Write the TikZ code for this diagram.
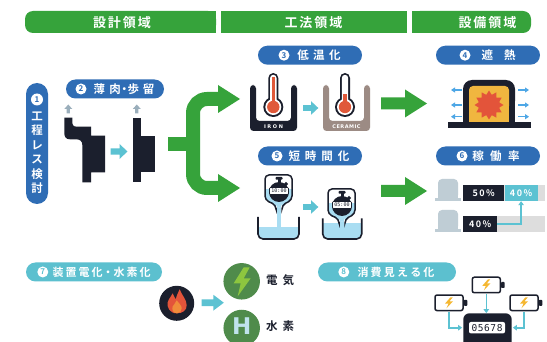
\documentclass[tikz,border=0pt]{standalone}
\usepackage{fontspec}
\setmainfont{Noto Sans CJK JP}[BoldFont={Noto Sans CJK JP Bold}]
\newfontfamily\latinbold{DejaVu Sans}
\newfontfamily\digitfont{DejaVu Sans Mono}
\usetikzlibrary{shapes.geometric,arrows.meta}

\definecolor{hdrgreen}{HTML}{36A33B}
\definecolor{pillblue}{HTML}{2F6DB5}
\definecolor{pillteal}{HTML}{5CC0CF}
\definecolor{ink}{HTML}{1B1F2D}
\definecolor{greyarrow}{HTML}{9AAEBB}
\definecolor{tealarrow}{HTML}{5CC2D2}
\definecolor{thermred}{HTML}{E0593A}
\definecolor{ceramic}{HTML}{9C8B84}
\definecolor{water}{HTML}{A9DDF2}
\definecolor{sunyellow}{HTML}{F0B63F}
\definecolor{sunred}{HTML}{E3543A}
\definecolor{heatblue}{HTML}{4EA7E6}
\definecolor{machinegrey}{HTML}{BFCDD5}
\definecolor{bargrey}{HTML}{DDDDDD}
\definecolor{circgreen}{HTML}{4F8B4B}
\definecolor{boltgreen}{HTML}{8DC63F}
\definecolor{hblue}{HTML}{BFE3EC}
\definecolor{battyellow}{HTML}{F5B731}
\definecolor{flameorange}{HTML}{F08C3A}

% letter-spaced text: \tracked{gap}{characters}
\makeatletter
\newcommand\tracked[2]{\def\trk@k{#1}\trk@loop#2\trk@end}
\def\trk@loop#1#2\trk@end{#1\ifx\relax#2\relax\else\kern\trk@k\relax\trk@loop#2\trk@end\fi}
\makeatother

\tikzset{
  hdrtext/.style={text=white, inner sep=0, font=\bfseries\fontsize{13}{13}\selectfont},
  pilltext/.style={text=white, inner sep=0, font=\bfseries\fontsize{11.5}{11.5}\selectfont},
  pillsmall/.style={text=white, inner sep=0, font=\bfseries\fontsize{11}{11}\selectfont},
  numdot/.style={circle, fill=white, inner sep=0, minimum size=11, font=\bfseries\fontsize{8}{8}\selectfont},
  cuplabel/.style={text=white, inner sep=0, font=\latinbold\bfseries\fontsize{5}{5}\selectfont},
  display/.style={fill=white, draw=ink, line width=0.6, rounded corners=1, minimum width=19, minimum height=7, inner sep=0, text=ink, font=\digitfont\fontsize{5}{5}\selectfont},
  heatarrow/.style={heatblue, line width=1.3, -{Triangle[width=5,length=4]}},
  tealline/.style={tealarrow, line width=1.6, -{Triangle[width=5.5,length=4]}},
  barseg/.style={minimum height=16, inner sep=0, text=white, font=\bfseries\fontsize{9}{9}\selectfont, anchor=west},
  battery/.style={draw=ink, line width=1.5, fill=white, rounded corners=2, minimum width=28, minimum height=15.5, inner sep=0},
  labeltext/.style={inner sep=0, text=ink, font=\bfseries\fontsize{11.5}{11.5}\selectfont, anchor=west},
  tealblock/.pic={\fill[tealarrow] (0,-3.2) -- (9,-3.2) -- (9,-7.5) -- (17,0) -- (9,7.5) -- (9,3.2) -- (0,3.2) -- cycle;},
  greyup/.pic={\fill[greyarrow] (0,0) -- (4,4.5) -- (1.6,4.5) -- (1.6,9) -- (-1.6,9) -- (-1.6,4.5) -- (-4,4.5) -- cycle;},
  thermo/.pic={
    \fill[ink] (0,0) circle[radius=10];
    \fill[ink, rounded corners=5] (-5,-34) rectangle (5,-2);
    \fill[white] (0,0) circle[radius=8];
    \fill[white, rounded corners=3.2] (-3.2,-32.2) rectangle (3.2,-2);
    \fill[thermred] (0,0) circle[radius=6.2];
    \fill[thermred] (-1.7,#1) rectangle (1.7,-2);
  },
  cup/.pic={
    \fill[#1, rounded corners=3.5] (-23.5,0) -- (-23.5,46) -- (23.5,46) -- (23.5,0)
      -- (17.5,0) -- (17.5,36) -- (-17.5,36) -- (-17.5,0) -- cycle;
  },
  stopwatch/.pic={
    \begin{scope}
      \clip[rounded corners=4] (-3,16) -- (-3,13) -- (-14,8) -- (-14,-17) -- (13,-17) -- (13,8) -- (3,13) -- (3,16) -- cycle;
      \fill[white] (-20,-20) rectangle (20,20);
      \fill[water] (-20,-3) rectangle (20,20);
    \end{scope}
    \draw[ink, line width=1.5, rounded corners=4] (-3,16) -- (-3,13) -- (-14,8) -- (-14,-17) -- (13,-17) -- (13,8) -- (3,13) -- (3,16);
    \fill[ink] (0,0) circle[radius=10];
    \fill[ink] (-1.5,-13) rectangle (1.5,-9);
    \fill[ink, rounded corners=0.8] (-3.5,-15) rectangle (3.5,-12.3);
    \fill[ink, rotate around={45:(7,-8)}] (5.5,-9.5) rectangle (8.5,-6.5);
    \node[display] at (0,-1) {#1};
  },
  machine/.pic={
    \fill[machinegrey, rounded corners=4] (-10,0) rectangle (10,20);
    \fill[machinegrey] (-10,12) rectangle (10,20);
    \fill[machinegrey] (-13,19.5) rectangle (13,22.5);
  },
}

\begin{document}
\begin{tikzpicture}[x=1pt, y=-1pt]
\useasboundingbox (0,0) rectangle (547,342);
\fill[white] (0,0) rectangle (547,342);

% ---------- section headers ----------
\fill[hdrgreen, rounded corners=8] (25,11) rectangle (216,33);
\fill[hdrgreen] (205,11) rectangle (216,33);
\fill[hdrgreen] (221,11) rectangle (407,33);
\fill[hdrgreen, rounded corners=8] (412,11) rectangle (531,33);
\fill[hdrgreen] (412,11) rectangle (425,33);
\node[hdrtext] (hdesign) at (122,22.5) {\tracked{2pt}{設計領域}};
\node[hdrtext] (hmethod) at (313.5,22.5) {\tracked{2pt}{工法領域}};
\node[hdrtext] (hequip) at (487.5,22.5) {\tracked{2pt}{設備領域}};

% ---------- 1: process-less study (vertical pill) ----------
\fill[pillblue, rounded corners=11] (26,83) rectangle (48,204);
\node[numdot, minimum size=12, text=pillblue] (n1) at (37,99.5) {1};
\foreach \ch [count=\i] in {工,程,レ,ス,検,討}
  \node[pilltext] (v\i) at (37,{101.5+14.5*\i}) {\ch};

% ---------- 2: thin wall / yield ----------
\fill[pillblue, rounded corners=9.5] (66,79.5) rectangle (164,98.5);
\node[numdot, text=pillblue] (n2) at (81,89) {2};
\node[pilltext] (t2) at (124,89) {薄\kern4.5pt肉\kern-2.5pt・\kern-2.5pt歩\kern4pt留};

\pic at (68.3,104.5) {greyup};
\pic at (136.8,104.5) {greyup};
% forging before
\fill[ink] (64.3,117.7) -- (72.3,117.7) -- (72.3,121)
  .. controls (72.3,125) and (73,126.7) .. (77,126.7) -- (91,126.7) -- (91,135.7)
  -- (105,135.7) -- (105,172.3) -- (91,172.3) -- (91,182.3) -- (82.3,182.3) -- (82.3,145)
  .. controls (82.3,141) and (80,139.3) .. (76,139.3) -- (70,139.3)
  .. controls (66,139.3) and (64.3,137) .. (64.3,133) -- cycle;
% forging after
\fill[ink] (132.7,117.7) rectangle (141,182.3);
\fill[ink] (141,135.7) rectangle (155,172.3);
\pic at (110.5,151.5) {tealblock};

% ---------- branching arrow ----------
\draw[hdrgreen, line width=14] (168,144) -- (193,144);
\draw[hdrgreen, line width=14, rounded corners=14] (219,99) -- (193,99) -- (193,188) -- (219,188);
\fill[hdrgreen] (218,85) -- (240,99) -- (218,113) -- cycle;
\fill[hdrgreen] (218,174) -- (240,188) -- (218,202) -- cycle;

% ---------- 3: lower temperature ----------
\fill[pillblue, rounded corners=9.5] (258,45.7) rectangle (362,64.7);
\node[numdot, text=pillblue] (n3) at (284,55.2) {3};
\node[pilltext] (t3) at (319,55.2) {\tracked{4.5pt}{低温化}};

\pic at (273.5,85) {cup=ink};
\pic at (273.3,107) {thermo=-30};
\node[cuplabel] (iron) at (273.5,126.5) {\tracked{1.6pt}{IRON}};
\pic at (346.5,85) {cup=ceramic};
\pic at (345,107) {thermo=-13};
\node[cuplabel] (ceram) at (346.5,126.5) {\tracked{0.5pt}{CERAMIC}};
\pic[scale=0.9] at (303,108) {tealblock};

% ---------- 5: shorter time ----------
\fill[pillblue, rounded corners=9.5] (258,146.5) rectangle (362,165.5);
\node[numdot, text=pillblue] (n5) at (277,156) {5};
\node[pilltext] (t5) at (319,156) {\tracked{5pt}{短時間化}};

% bowls and water
\begin{scope}
  \clip[rounded corners=5] (258,210) -- (258,239) -- (299,239) -- (299,210) -- cycle;
  \fill[water] (250,226.7) rectangle (305,245);
\end{scope}
\begin{scope}
  \clip[rounded corners=5] (322.7,210) -- (322.7,239) -- (361.7,239) -- (361.7,210) -- cycle;
  \fill[water] (315,223.3) rectangle (370,245);
\end{scope}
\fill[water] (277,205) rectangle (281,228);
\fill[water] (340,219) rectangle (344,225);
\draw[ink, line width=1.6, rounded corners=5] (258,217) -- (258,239) -- (299,239) -- (299,217);
\draw[ink, line width=1.6, rounded corners=5] (322.7,218.3) -- (322.7,239) -- (361.7,239) -- (361.7,218.3);
\pic at (279,192) {stopwatch=10:00};
\pic at (342,206) {stopwatch=05:00};
\pic[scale=0.9] at (303,207) {tealblock};

% ---------- arrows into equipment area ----------
\fill[hdrgreen] (381,97.5) -- (405,97.5) -- (405,89.5) -- (427,103.5) -- (405,117.5) -- (405,109.5) -- (381,109.5) -- cycle;
\fill[hdrgreen] (381,185) -- (405,185) -- (405,177) -- (427,191) -- (405,205) -- (405,197) -- (381,197) -- cycle;

% ---------- 4: heat shielding ----------
\fill[pillblue, rounded corners=9.5] (436,45.7) rectangle (540,64.7);
\node[numdot, text=pillblue] (n4) at (465,55.2) {4};
\node[pilltext] (t4) at (498.7,55.2) {\tracked{11pt}{遮熱}};

\fill[ink, rounded corners=9] (463,80) rectangle (515,110);
\fill[ink] (463,100) rectangle (515,124);
\fill[sunyellow, rounded corners=4] (469,86) rectangle (509,110);
\fill[sunyellow] (469,100) rectangle (509,123);
\fill[ink] (448,122.5) rectangle (531,128);
\node[star, star points=12, star point ratio=1.38, fill=sunred, minimum size=29, inner sep=0] (sun) at (489,105) {};
\foreach \yy in {90,105,116.7} {
  \draw[heatarrow] (462,\yy) -- (451,\yy);
  \draw[heatarrow] (518,\yy) -- (529,\yy);
}

% ---------- 6: utilisation ----------
\fill[pillblue, rounded corners=9.5] (436,146.5) rectangle (540,165.5);
\node[numdot, text=pillblue] (n6) at (462,156) {6};
\node[pilltext] (t6) at (496,156) {\tracked{6.3pt}{稼働率}};

\pic at (448,179) {machine};
\pic at (448,210) {machine};
\fill[bargrey] (463,185) rectangle (545,201);
\fill[bargrey] (463,216) rectangle (545,232);
\node[barseg, fill=ink, minimum width=41] (b50) at (463,193) {\tracked{1.5pt}{50\%}};
\node[barseg, fill=tealarrow, minimum width=33] (b40) at (b50.east) {\tracked{1.5pt}{40\%}};
\node[barseg, fill=ink, minimum width=34] (c40) at (463,224) {\tracked{1.5pt}{40\%}};
\draw[tealline] (c40.east) -| (b40.south);

% ---------- 7: electrification / hydrogen ----------
\fill[pillteal, rounded corners=9.5] (26,262.5) rectangle (162,281.5);
\node[numdot, text=pillteal] (n7) at (42.8,272) {7};
\node[pillsmall] (t7) at (101.7,272) {装\kern2pt置\kern2pt電\kern2pt化・水\kern2pt素\kern2pt化};

\node[circle, fill=ink, minimum size=35, inner sep=0] (flame) at (176.7,303.3) {};
\begin{scope}[shift={(flame.center)}]
  \fill[sunred] (0,10) .. controls (-7,10) and (-10,4) .. (-9,-1)
    .. controls (-8,-5) and (-5,-7) .. (-4,-10)
    .. controls (-2.5,-7) and (-2,-5) .. (-1,-4)
    .. controls (0,-8) and (2,-12) .. (3,-14)
    .. controls (5,-8) and (10,-4) .. (10,2)
    .. controls (10,7) and (6,10) .. (0,10) -- cycle;
  \fill[flameorange] (0.5,10) .. controls (-4,10) and (-5,6) .. (-4,3)
    .. controls (-3,1) and (-1,0) .. (0,-3)
    .. controls (2,0) and (5,2) .. (5,5)
    .. controls (5,8) and (3,10) .. (0.5,10) -- cycle;
\end{scope}
\pic[xscale=1.3, yscale=1.05] at (201.7,302.7) {tealblock};

\node[circle, fill=circgreen, minimum size=36.5, inner sep=0] (elec) at (241.7,281.3) {};
\fill[boltgreen, shift={(elec.center)}] (2,-14) -- (-8,2) -- (-1,2) -- (-4,15) -- (9,-3) -- (2,-3) -- (8,-14) -- cycle;
\node[circle, fill=circgreen, minimum size=36.5, inner sep=0] (hyd) at (241.7,328) {};
\node[inner sep=0, text=hblue, font=\latinbold\bfseries\fontsize{23}{23}\selectfont] (hlet) at (241.7,326.5) {H};
\node[labeltext] (tden) at (266,280.5) {\tracked{5pt}{電気}};
\node[labeltext] (tsui) at (266,326.5) {\tracked{5pt}{水素}};

% ---------- 8: visualised consumption ----------
\fill[pillteal, rounded corners=9.5] (318,262.5) rectangle (456,281.5);
\node[numdot, text=pillteal] (n8) at (343.8,272) {8};
\node[pillsmall] (t8) at (396,272) {\tracked{2.2pt}{消費見える化}};

\node[fill=ink, rounded corners=6, minimum width=48.4, minimum height=40, inner sep=0] (meter) at (487.5,333.3) {};
\node[fill=white, rounded corners=2, minimum width=36, minimum height=11.5, inner sep=0, text=ink,
      font=\digitfont\fontsize{9.5}{9.5}\selectfont] (disp) at (487,327.7) {\tracked{0.6pt}{05678}};

\node[battery] (btop) at (486.3,285) {};
\node[battery] (bleft) at (449,302.8) {};
\node[battery] (bright) at (524,302.8) {};
\foreach \b in {btop,bleft,bright} {
  \fill[ink, rounded corners=0.8] ([yshift=3pt]\b.east) rectangle +(3.5,6);
  \fill[battyellow, shift={(\b.center)}] (1.5,-5.5) -- (-4,0.8) -- (-0.5,0.8) -- (-2.5,5.5) -- (4,-1.5) -- (0.5,-1.5) -- (3.8,-5.5) -- cycle;
}
\draw[tealline, shorten <=1] (btop.south) -- (btop.south |- meter.north);
\draw[tealline, shorten <=1, shorten >=1] (bleft.south) |- (meter.west |- disp.center);
\draw[tealline, shorten <=1, shorten >=1] (bright.south) |- (meter.east |- disp.center);
\end{tikzpicture}
\end{document}
